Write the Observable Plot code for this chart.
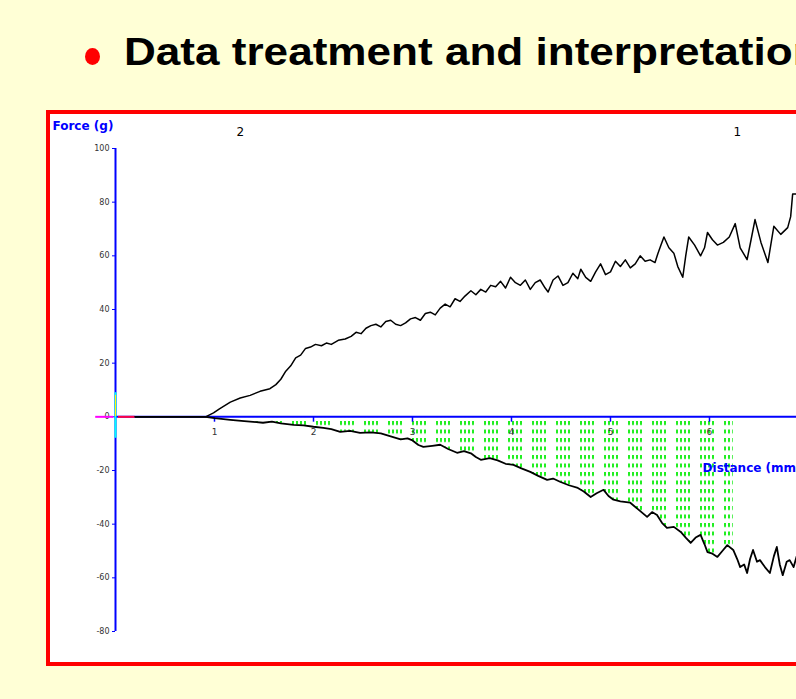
<!DOCTYPE html>
<html>
<head>
<meta charset="utf-8">
<script src="https://cdn.jsdelivr.net/npm/d3@7"></script>
<script src="https://cdn.jsdelivr.net/npm/@observablehq/plot@0.6"></script>
<style>
  html, body { margin: 0; padding: 0; }
  body { width: 796px; height: 699px; background: #ffffd6; position: relative; overflow: hidden; font-family: "Liberation Sans", Arial, sans-serif; }
  #bullet { position: absolute; left: 85px; top: 48px; width: 15px; height: 17px; border-radius: 50%; background: #ff0000; }
  #title { position: absolute; left: 124px; top: 28px; font-size: 38px; font-weight: bold; color: #000; white-space: nowrap; transform: scaleX(1.16); transform-origin: 0 0; line-height: 48px; }
  #frame { position: absolute; left: 46px; top: 110px; width: 800px; height: 548px; border: 4px solid #ff0000; background: #fff; }
  #chart { position: absolute; left: 0; top: 0; }
  #chart svg { overflow: visible; }
</style>
</head>
<body>
<div id="bullet"></div>
<div id="title">Data treatment and interpretation</div>
<div id="frame"><div id="chart"></div></div>
<script>
// Upper curve (penetration force) – distance (mm), force (g)
const upperDist = [0.2,0.5,0.91,0.99,1.05,1.16,1.26,1.36,1.46,1.56,1.62,1.67,1.72,1.77,1.82,1.87,1.92,1.97,2.02,2.08,2.13,2.18,2.25,2.32,2.38,2.43,2.48,2.53,2.58,2.63,2.68,2.73,2.78,2.83,2.88,2.93,2.98,3.03,3.08,3.13,3.18,3.23,3.28,3.33,3.38,3.43,3.48,3.53,3.59,3.64,3.69,3.74,3.79,3.84,3.89,3.94,3.99,4.04,4.09,4.14,4.19,4.24,4.29,4.34,4.37,4.42,4.47,4.52,4.57,4.62,4.67,4.70,4.75,4.80,4.85,4.90,4.95,5.00,5.05,5.10,5.15,5.20,5.25,5.30,5.35,5.40,5.45,5.48,5.51,5.54,5.59,5.64,5.68,5.73,5.76,5.79,5.85,5.91,5.95,5.98,6.03,6.08,6.14,6.20,6.26,6.31,6.38,6.42,6.46,6.52,6.59,6.65,6.72,6.79,6.82,6.84,6.88];
const upperForce = [0,0,0,1.5,3,5.5,7,8,9.5,10.5,12,14,17,19,22,23,25.5,26,27,26.5,27.5,27,28.5,29,30,31.5,31,33,34,34.5,33.5,35.5,36,34.5,34,35,36.5,37,36,38.5,39,38,40.5,42,41,44,43,45,47,45.5,47.5,46.5,49,48.5,50.5,48,52,50,49,51,47.5,50,51,48,46.5,51,52.5,49,50,53.5,51.5,55,52,50.5,54,57,53,54,58,56,58.5,55.5,57,60,58,58.5,57.5,61,64,67,63,61,56,52,60,67,64,60,63,68.7,66,64,65,67,72,63,58.6,66,73.5,65,57.5,71,68,70.5,74.6,83,83];

// Lower curve (withdrawal / adhesiveness) – distance (mm), force (g)
const lowerDist = [0.2,0.5,0.91,1.0,1.16,1.3,1.49,1.58,1.67,1.80,1.9,2.0,2.1,2.18,2.27,2.37,2.47,2.58,2.68,2.78,2.88,2.95,3.0,3.06,3.11,3.2,3.28,3.36,3.45,3.52,3.59,3.64,3.69,3.78,3.86,3.94,4.02,4.1,4.19,4.27,4.36,4.42,4.49,4.58,4.67,4.73,4.80,4.86,4.93,4.98,5.03,5.1,5.20,5.28,5.37,5.42,5.47,5.52,5.57,5.64,5.71,5.76,5.81,5.86,5.91,5.95,5.98,6.03,6.08,6.13,6.18,6.24,6.28,6.31,6.35,6.38,6.41,6.44,6.48,6.51,6.56,6.61,6.65,6.68,6.71,6.74,6.78,6.81,6.85,6.88];
const lowerForce = [0,0,0,-0.5,-1.1,-1.6,-2.2,-1.8,-2.4,-3,-3.2,-3.7,-4.1,-4.6,-5.6,-5.2,-6,-5.8,-6.2,-7.3,-8.4,-8,-8.8,-10.5,-11.2,-10.8,-10.4,-12,-13.4,-12.8,-13.6,-15,-16,-15.4,-16.2,-17.5,-17.9,-19.2,-20.5,-22,-23.5,-23,-24.2,-25.5,-26.5,-27.8,-29.9,-28.5,-27.2,-29.5,-30.9,-31.5,-32,-34.5,-37.3,-35.5,-36.6,-39.5,-41.4,-41,-42.9,-45,-47,-45,-44,-47.5,-50.4,-51,-52.2,-50,-47.8,-49.6,-53,-56,-55,-58.2,-53,-49.6,-54,-53.4,-56,-58.2,-52,-48.5,-55,-59,-54,-53.4,-56,-52];

// Hatched (adhesive) area limits, between markers
const areaStart = 1.1, areaEnd = 6.26;

// Axes
const xDomain = [0, 6.879];
const yDomain = [-80, 100];
const yTicks = [100, 80, 60, 40, 20, 0, -20, -40, -60, -80];
const xTicks = [1, 2, 3, 4, 5, 6];

// Annotations
const markers = [{x: 1.26, label: "2"}, {x: 6.28, label: "1"}];
const yAxisLabel = "Force (g)";
const xAxisLabel = [{x: 5.93, y: -19, label: "Distance (mm)"}];

const upper = upperDist.map((d, i) => ({d, f: upperForce[i]}));
const lower = lowerDist.map((d, i) => ({d, f: lowerForce[i]}));
const hatched = lower.filter(p => p.d >= areaStart && p.d <= areaEnd);

const chart = Plot.plot({
  width: 746,
  height: 548,
  marginLeft: 65,
  marginRight: 0,
  marginTop: 34,
  marginBottom: 31,
  style: {background: "#fff", fontFamily: "DejaVu Sans, sans-serif", overflow: "visible"},
  x: {domain: xDomain, axis: null},
  y: {domain: yDomain, axis: null},
  marks: [
    Plot.areaY(hatched, {x: "d", y1: 0, y2: "f", fill: "url(#hatch)", curve: "linear"}),
    Plot.ruleX([0], {y1: yDomain[0], y2: yDomain[1], stroke: "#0000ff", strokeWidth: 2}),
    Plot.ruleY([0], {x1: 0, x2: xDomain[1], stroke: "#0000ff", strokeWidth: 2}),
    Plot.axisY({ticks: yTicks, tickSize: 3, tickPadding: 3, stroke: "#0000ff", fill: "#333", fontSize: 8, label: null, tickFormat: d => String(d)}),
    Plot.ruleX(xTicks, {x: d => d, y1: 0, y2: -2, stroke: "#0000ff", strokeWidth: 1.5}),
    Plot.text(xTicks, {x: d => d, y: -5.6, text: d => String(d), fontSize: 9, fill: "#333"}),
    Plot.ruleX([0], {y1: -8, y2: 9, stroke: "#00ffff", strokeWidth: 2}),
    Plot.ruleX([0], {y1: 0, y2: 8, stroke: "#ffff00", strokeWidth: 1}),
    Plot.ruleY([0], {x1: -0.2, x2: -0.02, stroke: "#ff00ff", strokeWidth: 2}),
    Plot.ruleY([0], {x1: 0.03, x2: 0.2, stroke: "#ff0044", strokeWidth: 2}),
    Plot.line(upper, {x: "d", y: "f", stroke: "#000", strokeWidth: 1.5, curve: "linear"}),
    Plot.line(lower, {x: "d", y: "f", stroke: "#000", strokeWidth: 1.8, curve: "linear"}),
    Plot.text(markers, {x: "x", frameAnchor: "top", dy: -21, text: "label", fontSize: 12, fill: "#000"}),
    Plot.text([yAxisLabel], {frameAnchor: "top-left", dx: -63, dy: -27, text: d => d, fontSize: 12, fontWeight: "bold", fill: "#0000ff", textAnchor: "start"}),
    Plot.text(xAxisLabel, {x: "x", y: "y", text: "label", fontSize: 12, fontWeight: "bold", fill: "#0000ff", textAnchor: "start"})
  ]
});

const svg = d3.select(chart);
const defs = svg.insert("defs", ":first-child");
const pat = defs.append("pattern")
  .attr("id", "hatch")
  .attr("patternUnits", "userSpaceOnUse")
  .attr("x", 2).attr("y", 307)
  .attr("width", 24).attr("height", 8.5);
[0, 4, 8, 12].forEach(px => pat.append("rect").attr("x", px).attr("y", 0).attr("width", 2).attr("height", 4).attr("fill", "#22ee22"));

document.getElementById("chart").appendChild(chart);
</script>
</body>
</html>
